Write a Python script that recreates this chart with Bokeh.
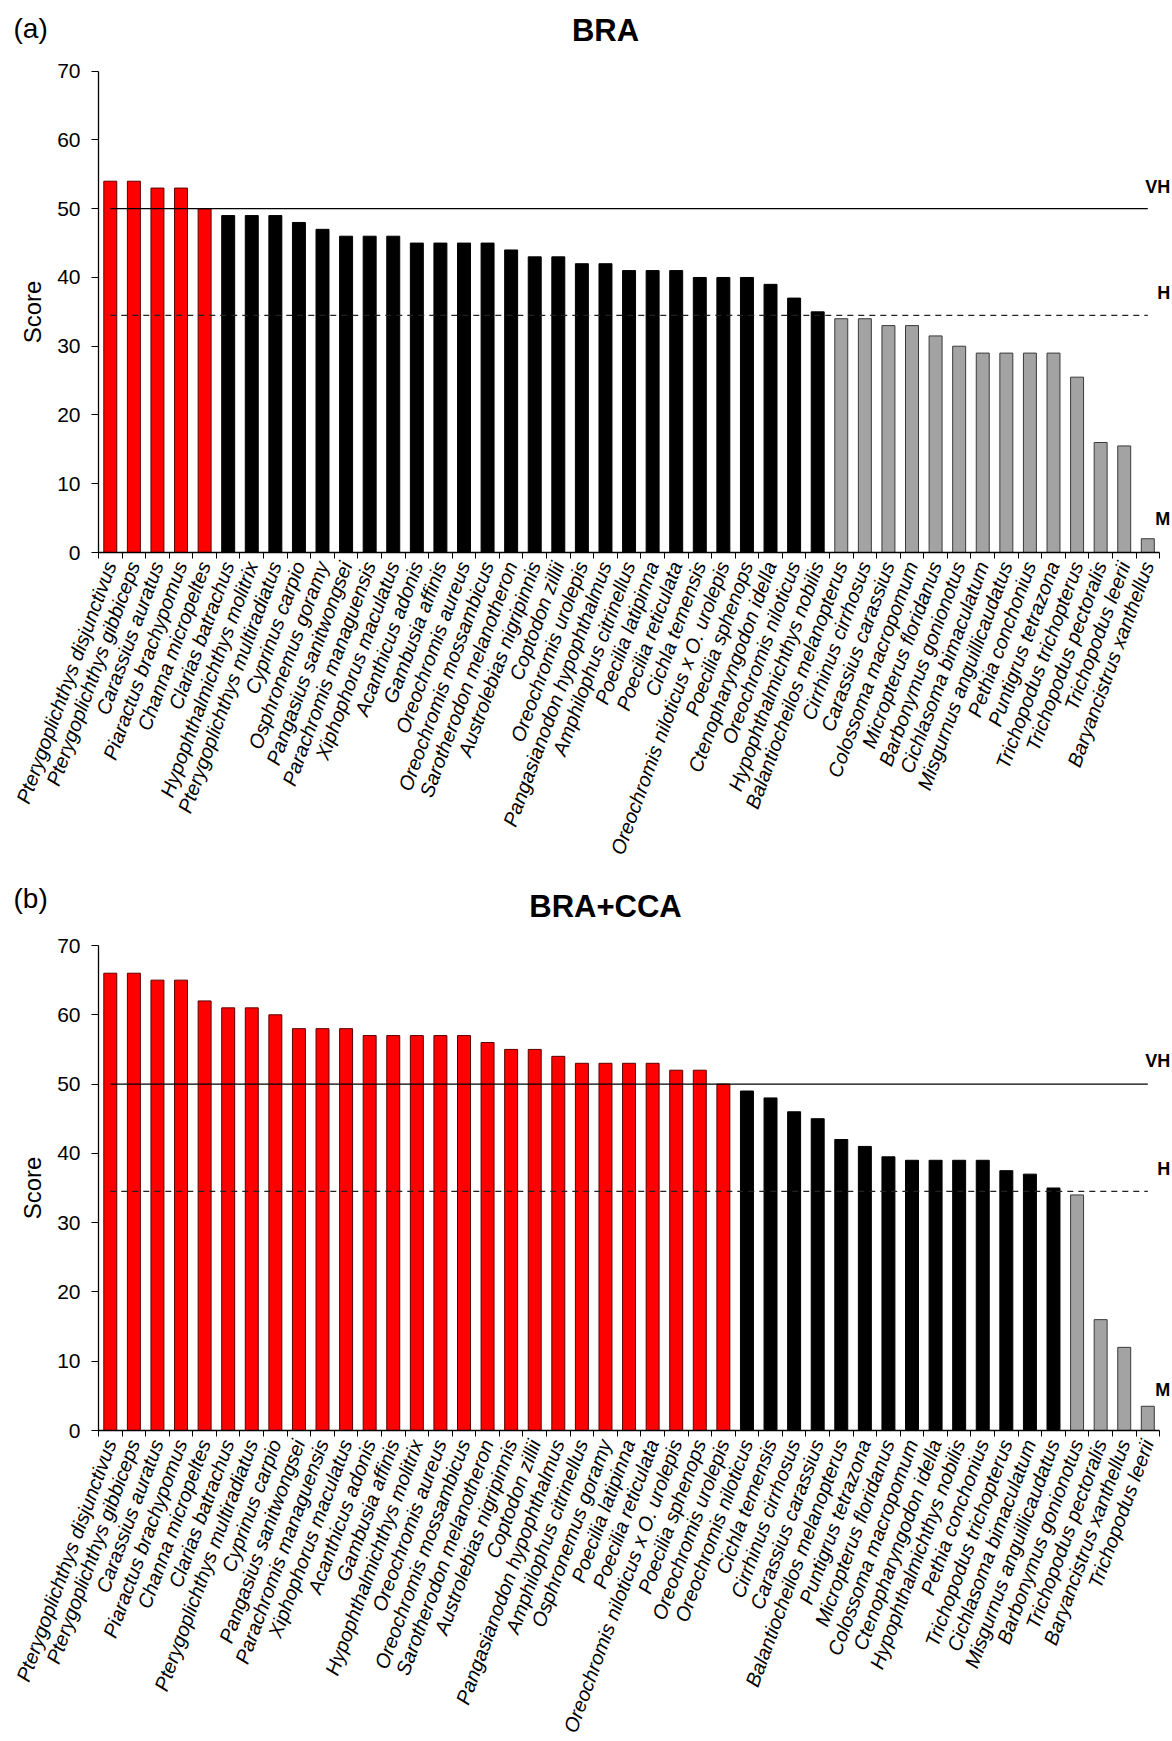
from bokeh.plotting import figure
from bokeh.models import FixedTicker, Label, ColumnDataSource, Range1d
from bokeh.layouts import column
from bokeh.embed import file_html
from bokeh.resources import INLINE

# ---------------- data ----------------
VH_THRESHOLD = 50
H_THRESHOLD = 34.5
Y_TICKS = [0, 10, 20, 30, 40, 50, 60, 70]

bra_species = [
    "Pterygoplichthys disjunctivus", "Pterygoplichthys gibbiceps", "Carassius auratus",
    "Piaractus brachypomus", "Channa micropeltes", "Clarias batrachus",
    "Hypophthalmichthys molitrix", "Pterygoplichthys multiradiatus", "Cyprinus carpio",
    "Osphronemus goramy", "Pangasius sanitwongsei", "Parachromis managuensis",
    "Xiphophorus maculatus", "Acanthicus adonis", "Gambusia affinis",
    "Oreochromis aureus", "Oreochromis mossambicus", "Sarotherodon melanotheron",
    "Austrolebias nigripinnis", "Coptodon zillii", "Oreochromis urolepis",
    "Pangasianodon hypophthalmus", "Amphilophus citrinellus", "Poecilia latipinna",
    "Poecilia reticulata", "Cichla temensis", "Oreochromis niloticus x O. urolepis",
    "Poecilia sphenops", "Ctenopharyngodon idella", "Oreochromis niloticus",
    "Hypophthalmichthys nobilis", "Balantiocheilos melanopterus", "Cirrhinus cirrhosus",
    "Carassius carassius", "Colossoma macropomum", "Micropterus floridanus",
    "Barbonymus gonionotus", "Cichlasoma bimaculatum", "Misgurnus anguillicaudatus",
    "Pethia conchonius", "Puntigrus tetrazona", "Trichopodus trichopterus",
    "Trichopodus pectoralis", "Trichopodus leerii", "Baryancistrus xanthellus",
]
bra_scores = [
    54, 54, 53, 53, 50, 49, 49, 49, 48, 47, 46, 46, 46, 45, 45, 45, 45, 44, 43, 43,
    42, 42, 41, 41, 41, 40, 40, 40, 39, 37, 35, 34, 34, 33, 33, 31.5, 30, 29, 29, 29,
    29, 25.5, 16, 15.5, 2,
]

cca_species = [
    "Pterygoplichthys disjunctivus", "Pterygoplichthys gibbiceps", "Carassius auratus",
    "Piaractus brachypomus", "Channa micropeltes", "Clarias batrachus",
    "Pterygoplichthys multiradiatus", "Cyprinus carpio", "Pangasius sanitwongsei",
    "Parachromis managuensis", "Xiphophorus maculatus", "Acanthicus adonis",
    "Gambusia affinis", "Hypophthalmichthys molitrix", "Oreochromis aureus",
    "Oreochromis mossambicus", "Sarotherodon melanotheron", "Austrolebias nigripinnis",
    "Coptodon zillii", "Pangasianodon hypophthalmus", "Amphilophus citrinellus",
    "Osphronemus goramy", "Poecilia latipinna", "Poecilia reticulata",
    "Oreochromis niloticus x O. urolepis", "Poecilia sphenops", "Oreochromis urolepis",
    "Oreochromis niloticus", "Cichla temensis", "Cirrhinus cirrhosus",
    "Carassius carassius", "Balantiocheilos melanopterus", "Puntigrus tetrazona",
    "Micropterus floridanus", "Colossoma macropomum", "Ctenopharyngodon idella",
    "Hypophthalmichthys nobilis", "Pethia conchonius", "Trichopodus trichopterus",
    "Cichlasoma bimaculatum", "Misgurnus anguillicaudatus", "Barbonymus gonionotus",
    "Trichopodus pectoralis", "Baryancistrus xanthellus", "Trichopodus leerii",
]
cca_scores = [
    66, 66, 65, 65, 62, 61, 61, 60, 58, 58, 58, 57, 57, 57, 57, 57, 56, 55, 55, 54,
    53, 53, 53, 53, 52, 52, 50, 49, 48, 46, 45, 42, 41, 39.5, 39, 39, 39, 39, 37.5, 37,
    35, 34, 16, 12, 3.5,
]

RED = "#FF0000"
BLACK = "#000000"
GREY = "#A3A3A3"
FONT = "Liberation Sans"

WIDTH = 1172
AXIS_PX = 98          # canvas x of the y axis
UNIT_PX = 23.58       # pixels per category


def make_panel(names, scores, letter, title, height, frame_bottom, frame_top70,
               title_y, letter_y, vh_y, h_y, m_y):
    n = len(names)
    xs = list(range(n))
    colors, lines = [], []
    for s in scores:
        if s >= VH_THRESHOLD:
            colors.append(RED); lines.append("#5a0000")
        elif s > H_THRESHOLD:
            colors.append(BLACK); lines.append("#000000")
        else:
            colors.append(GREY); lines.append("#3a3a3a")
    src = ColumnDataSource(dict(x=xs, score=scores, color=colors, line=lines))

    px_per_unit = (frame_bottom - frame_top70) / 70.0
    y_top = frame_bottom / px_per_unit
    y_bottom = -(height - frame_bottom) / px_per_unit
    x_start = -0.5 - AXIS_PX / UNIT_PX
    x_end = x_start + WIDTH / UNIT_PX

    p = figure(width=WIDTH, height=height,
               x_range=Range1d(x_start, x_end), y_range=Range1d(y_bottom, y_top),
               output_backend="svg", toolbar_location=None,
               min_border_left=0, min_border_right=0,
               min_border_top=0, min_border_bottom=0)
    p.outline_line_color = None
    p.xgrid.visible = False
    p.ygrid.visible = False
    p.background_fill_color = "white"

    p.vbar(x="x", bottom=0, top="score", width=0.55, fill_color="color",
           line_color="line", line_width=1, source=src)

    # threshold lines, from first to last bar centre
    p.line(x=[xs[0], xs[-1]], y=[VH_THRESHOLD, VH_THRESHOLD], line_color="black",
           line_width=1.3)
    p.line(x=[xs[0], xs[-1]], y=[H_THRESHOLD, H_THRESHOLD], line_color="#222222",
           line_width=1.2, line_dash="6 5")

    # x axis, drawn at score 0
    xa = p.xaxis[0]
    xa.fixed_location = 0
    xa.bounds = (-0.5, n - 0.5)
    xa.ticker = FixedTicker(ticks=xs, minor_ticks=[i - 0.5 for i in range(n + 1)])
    xa.major_label_overrides = {i: nm for i, nm in zip(xs, names)}
    xa.major_tick_line_color = None
    xa.minor_tick_out = 6
    xa.minor_tick_in = 0
    xa.minor_tick_line_color = "black"
    xa.axis_line_color = "black"
    xa.axis_line_width = 1.3
    xa.major_label_orientation = 1.22
    xa.major_label_standoff = 4
    xa.major_label_text_font = FONT
    xa.major_label_text_font_style = "italic"
    xa.major_label_text_font_size = "20px"
    xa.major_label_text_color = "black"

    # y axis, drawn at the first category boundary
    ya = p.yaxis[0]
    ya.fixed_location = -0.5
    ya.bounds = (0, 70)
    ya.ticker = FixedTicker(ticks=Y_TICKS)
    ya.minor_tick_line_color = None
    ya.major_tick_out = 7
    ya.major_tick_in = 0
    ya.axis_line_color = "black"
    ya.axis_line_width = 1.3
    ya.major_label_standoff = 11
    ya.major_label_text_font = FONT
    ya.major_label_text_font_size = "21px"
    ya.major_label_text_color = "black"
    ya.axis_label = "Score"
    ya.axis_label_text_font = FONT
    ya.axis_label_text_font_style = "normal"
    ya.axis_label_text_font_size = "24px"
    ya.axis_label_text_color = "black"
    ya.axis_label_standoff = 8

    # titles and level labels
    p.add_layout(Label(x=21.0, y=title_y, text=title, text_font=FONT,
                       text_font_style="bold", text_font_size="31px",
                       text_color="black",
                       text_align="center", text_baseline="middle"))
    p.add_layout(Label(x=-3.38, y=letter_y, text=letter, text_font=FONT,
                       text_font_size="28px", text_color="black",
                       text_align="center", text_baseline="middle"))
    for txt, yy in (("VH", vh_y), ("H", h_y), ("M", m_y)):
        p.add_layout(Label(x=x_end - 0.1, y=yy, text=txt, text_font=FONT,
                           text_font_style="bold", text_font_size="18px",
                           text_color="black",
                           text_align="right", text_baseline="middle"))
    return p


pa = make_panel(bra_species, bra_scores, "(a)", "BRA", height=884, frame_bottom=552,
                frame_top70=70.7, title_y=75.9, letter_y=76.2, vh_y=53.2, h_y=37.8,
                m_y=4.8)
pb = make_panel(cca_species, cca_scores, "(b)", "BRA+CCA", height=857, frame_bottom=546,
                frame_top70=61, title_y=75.6, letter_y=76.8, vh_y=53.3, h_y=37.7,
                m_y=5.9)

layout = column(pa, pb, spacing=0)
open("out.html", "w").write(file_html(layout, INLINE))
